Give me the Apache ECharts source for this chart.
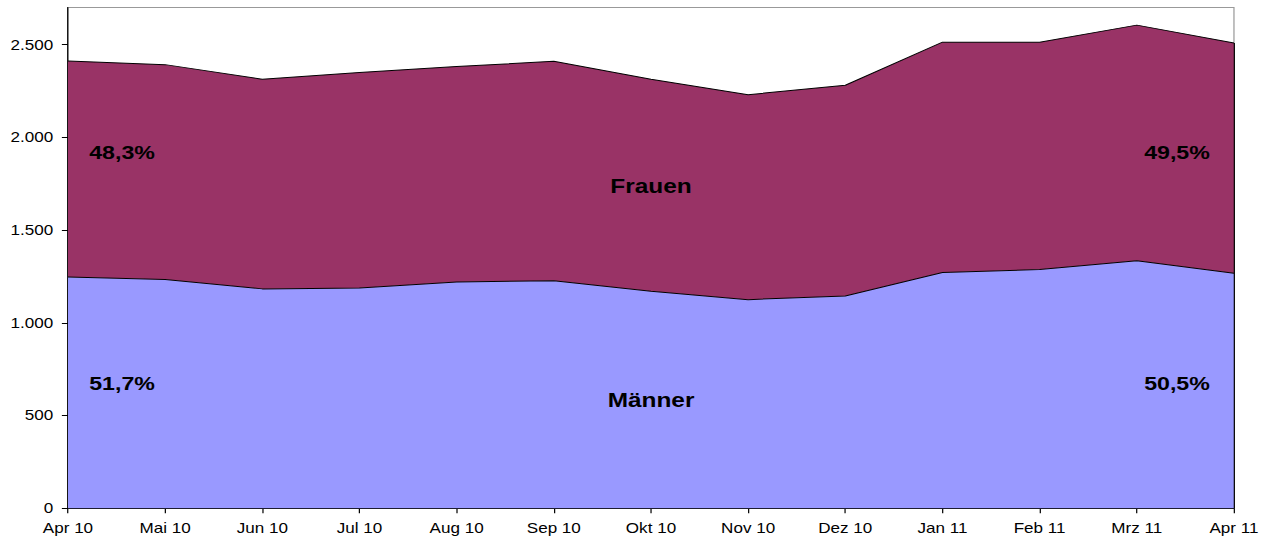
<!DOCTYPE html>
<html>
<head>
<meta charset="utf-8">
<script src="https://cdn.jsdelivr.net/npm/echarts@6/dist/echarts.min.js"></script>
<style>
html, body { margin: 0; padding: 0; background: #fff; overflow: hidden; }
#chart { width: 1044px; height: 540px; transform: scaleX(1.2203); transform-origin: 0 0; }
</style>
</head>
<body>
<div id="chart"></div>
<script>
// Data
const categories = ['Apr 10', 'Mai 10', 'Jun 10', 'Jul 10', 'Aug 10', 'Sep 10', 'Okt 10', 'Nov 10', 'Dez 10', 'Jan 11', 'Feb 11', 'Mrz 11', 'Apr 11'];
const maenner = [1247, 1233, 1183, 1188, 1220, 1227, 1170, 1125, 1145, 1271, 1287, 1335, 1267];
const frauen  = [1165, 1159, 1130, 1161, 1162, 1183, 1143, 1105, 1136, 1242, 1226, 1270, 1242];
const yTicks = [0, 500, 1000, 1500, 2000, 2500];
const seriesNames = ['Männer', 'Frauen'];
const shareLabels = { frauenStart: '48,3%', maennerStart: '51,7%', frauenEnd: '49,5%', maennerEnd: '50,5%' };

const fmt = v => String(v).replace(/\B(?=(\d{3})+(?!\d))/g, '.');
const lastIdx = categories.length - 1;
const lastTotal = maenner[lastIdx] + frauen[lastIdx];

const chart = echarts.init(document.getElementById('chart'), null, { renderer: 'svg' });
const font = '"Liberation Sans", Arial, sans-serif';
const labelStyle = (text, x, y, size) => ({
  type: 'text', x: x, y: y, silent: true, z: 100,
  style: { text: text, fill: '#000', font: 'bold ' + size + 'px ' + font, textAlign: 'center', textVerticalAlign: 'middle' }
});

chart.setOption({
  animation: false,
  backgroundColor: '#fff',
  grid: { left: 55.7, right: 32.8, top: 7.5, bottom: 31.7, show: true, borderColor: '#999', borderWidth: 1, backgroundColor: 'transparent' },
  xAxis: {
    type: 'category', data: categories, boundaryGap: false,
    axisLine: { show: true, lineStyle: { color: '#000', width: 1 } },
    axisTick: { show: true, length: 5, lineStyle: { color: '#000' } },
    axisLabel: { interval: 0, color: '#000', fontFamily: font, fontSize: 14, margin: 13 },
    splitLine: { show: false }
  },
  yAxis: {
    type: 'value', min: 0, max: 2700,
    axisLine: { show: true, lineStyle: { color: '#000', width: 1 } },
    axisTick: { show: true, length: 5, customValues: yTicks, lineStyle: { color: '#000' } },
    axisLabel: { customValues: yTicks, color: '#000', fontFamily: font, fontSize: 14, margin: 12, formatter: v => fmt(v) },
    splitLine: { show: false }
  },
  series: [
    {
      name: seriesNames[0], type: 'line', stack: 'total', data: maenner,
      symbol: 'none', lineStyle: { color: '#000', width: 1 },
      areaStyle: { color: '#9999FF', opacity: 1 }, z: 2
    },
    {
      name: seriesNames[1], type: 'line', stack: 'total', data: frauen,
      symbol: 'none', lineStyle: { color: '#000', width: 1 },
      areaStyle: { color: '#993366', opacity: 1 }, z: 2,
      markLine: {
        silent: true, symbol: 'none', label: { show: false },
        lineStyle: { color: '#000', width: 1, type: 'solid' },
        data: [[{ coord: [categories[lastIdx], 0] }, { coord: [categories[lastIdx], lastTotal] }]]
      }
    }
  ],
  graphic: [
    labelStyle(shareLabels.frauenStart, 100, 152, 19),
    labelStyle(shareLabels.maennerStart, 100, 383, 19),
    labelStyle(shareLabels.frauenEnd, 964.5, 152, 19),
    labelStyle(shareLabels.maennerEnd, 964.5, 383, 19),
    labelStyle(seriesNames[1], 533.5, 186, 20),
    labelStyle(seriesNames[0], 533.5, 400, 20)
  ]
});
</script>
</body>
</html>
